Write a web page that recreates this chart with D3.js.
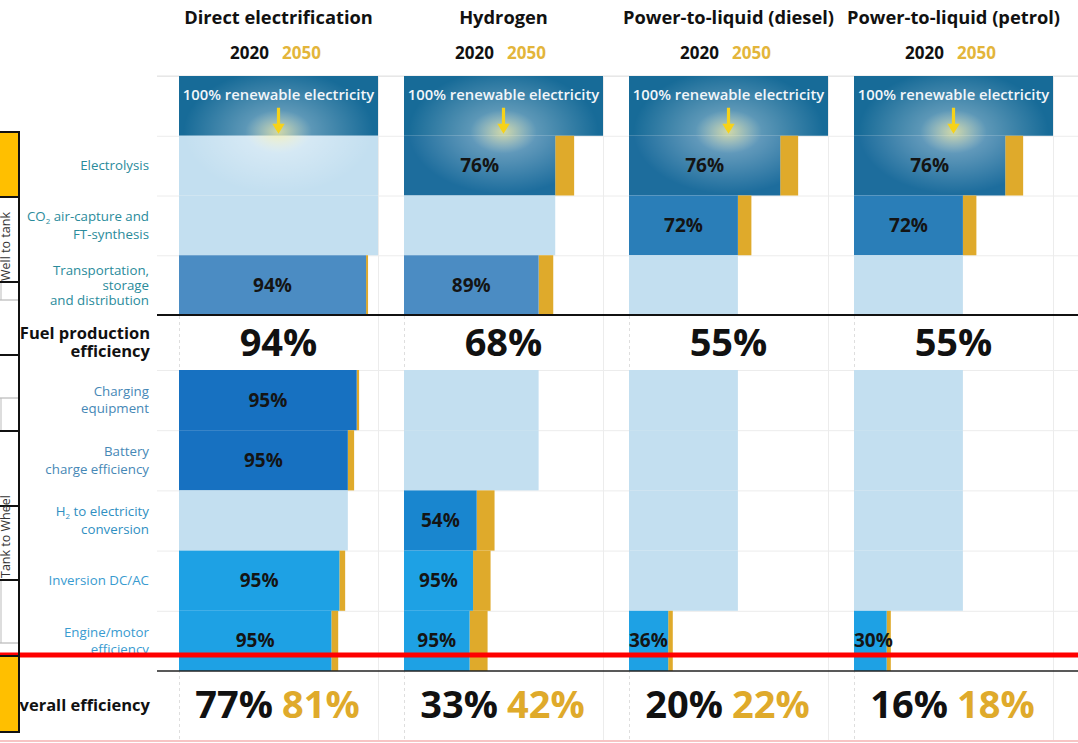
<!DOCTYPE html>
<html>
<head>
<meta charset="utf-8">
<script src="https://cdn.jsdelivr.net/npm/d3@7.9.0/dist/d3.min.js"></script>
<style>
  body { margin: 0; background: #fff; }
  svg { display: block; font-family: 'Open Sans', sans-serif; }
</style>
</head>
<body>
<script>
const pathways = ['Direct electrification', 'Hydrogen', 'Power-to-liquid (diesel)', 'Power-to-liquid (petrol)'];
const steps = ['Electrolysis', 'CO2 capture', 'Transport', 'Charging', 'Battery', 'H2 to electricity', 'Inversion', 'Engine'];
const stepLabels = [
    ['Electrolysis'],
    ['CO_2 air-capture and', 'FT-synthesis'],
    ['Transportation,', 'storage', 'and distribution'],
    ['Charging', 'equipment'],
    ['Battery', 'charge efficiency'],
    ['H_2 to electricity', 'conversion'],
    ['Inversion DC/AC'],
    ['Engine/motor', 'efficiency'],
];

// efficiency of each step in 2020, null where the step is not part of the pathway
const directSteps = [null, null, 94, 95, 95, null, 95, 95];
const hydrogenSteps = [76, null, 89, null, null, 54, 95, 95];
const dieselSteps = [76, 72, null, null, null, null, null, 36];
const petrolSteps = [76, 72, null, null, null, null, null, 30];

// share of the electricity left after each step in 2050 (end of the yellow part)
const direct2050 = [null, null, 95, 90.5, 88, null, 83.5, 80];
const hydrogen2050 = [85.5, null, 75, null, null, 45.5, 43.5, 42];
const diesel2050 = [85, 61.5, null, null, null, null, null, 22];
const petrol2050 = [85, 61.5, null, null, null, null, null, 18.5];

const fuelEfficiency = [94, 68, 55, 55];
const overall2020 = [77, 33, 20, 16];
const overall2050 = [81, 42, 22, 18];
const years = ['2020', '2050'];

const stepsBy = [directSteps, hydrogenSteps, dieselSteps, petrolSteps];
const laterBy = [direct2050, hydrogen2050, diesel2050, petrol2050];

const stepColors = ['#1d6d9d', '#2a7eb8', '#4b8cc3', '#1771c1', '#1771c1', '#1986cf', '#1ea1e4', '#1ea1e4'];
const labelColors = ['#2a8b9b', '#2a8b9b', '#2a8b9b', '#4688b6', '#4688b6', '#2f8fc2', '#399bd0', '#399bd0'];
const headerColor = '#176b98';
const passColor = '#c3dff0';
const yellow = '#dfaa2b';
const yearYellow = '#e3b53a';

const width = 1078, height = 743;
const svg = d3.select('body').append('svg').attr('width', width).attr('height', height);

const panelX = d3.scaleBand().domain(pathways).range([179, 1079]);
const x = d3.scaleLinear().domain([0, 100]).range([0, 199]);
const yTop = d3.scaleBand().domain(['renewable', ...steps.slice(0, 3)]).range([76, 315]);
const yBot = d3.scaleBand().domain(steps.slice(3)).range([370, 671]);
const rowY = (s) => yTop.domain().includes(s) ? yTop(s) : yBot(s);
const rowH = (s) => yTop.domain().includes(s) ? yTop.bandwidth() : yBot.bandwidth();

const defs = svg.append('defs');
const glow = defs.append('radialGradient').attr('id', 'glow');
glow.append('stop').attr('offset', '0%').attr('stop-color', '#fff3a8').attr('stop-opacity', 0.8);
glow.append('stop').attr('offset', '35%').attr('stop-color', '#ffffff').attr('stop-opacity', 0.3);
glow.append('stop').attr('offset', '100%').attr('stop-color', '#ffffff').attr('stop-opacity', 0);

// faint grid
const grid = svg.append('g').attr('stroke', '#ececec').attr('stroke-width', 1);
[...yTop.domain().map(yTop), ...yBot.domain().map(yBot)].forEach((y) => {
    grid.append('line').attr('x1', 157).attr('x2', width).attr('y1', y + 0.5).attr('y2', y + 0.5);
});
pathways.forEach((p) => {
    grid.append('line').attr('x1', panelX(p) + 0.5).attr('x2', panelX(p) + 0.5)
        .attr('y1', 76).attr('y2', 740).attr('stroke', '#dedede').attr('stroke-dasharray', '3,3');
    grid.append('line').attr('x1', panelX(p) + x(100) + 0.5).attr('x2', panelX(p) + x(100) + 0.5)
        .attr('y1', 76).attr('y2', 740);
});
svg.append('line').attr('x1', 157).attr('x2', width).attr('y1', 76).attr('y2', 76).attr('stroke', '#e2e2e2');

function addLines(sel, lines, y0, lineH) {
    lines.forEach((line, i) => {
        const t = sel.append('text').attr('y', y0 + i * lineH);
        line.split('_2').forEach((part, j) => {
            if (j > 0) t.append('tspan').attr('font-size', '0.6em').attr('dy', 3).text('2');
            t.append('tspan').attr('dy', j > 0 ? -3 : null).text(part);
        });
    });
}

pathways.forEach((p, pi) => {
    const x0 = panelX(p);
    const cx = x(100) / 2;
    const g = svg.append('g').attr('transform', `translate(${x0},0)`);
    const bars = g.append('g');
    const glowLayer = g.append('g');
    const texts = g.append('g');

    texts.append('text').attr('x', cx).attr('y', 24).attr('text-anchor', 'middle')
        .attr('font-size', 18.3).attr('font-weight', 700).attr('fill', '#111').text(p);
    const yt = texts.append('text').attr('x', cx - 3).attr('y', 58.5).attr('text-anchor', 'middle')
        .attr('font-size', 17).attr('font-weight', 700);
    yt.append('tspan').attr('fill', '#111').text(years[0]);
    yt.append('tspan').attr('fill', yearYellow).attr('dx', 13).text(years[1]);

    bars.append('rect').attr('x', 0).attr('y', yTop('renewable')).attr('width', x(100))
        .attr('height', yTop.bandwidth()).attr('fill', headerColor);

    let share = 100;
    let firstWidth = x(100);
    stepsBy[pi].forEach((eff, si) => {
        const s = steps[si];
        const y = rowY(s), h = rowH(s);
        if (eff === null) {
            bars.append('rect').attr('x', 0).attr('y', y).attr('width', x(share)).attr('height', h).attr('fill', passColor);
            if (si === 0) firstWidth = x(share);
            return;
        }
        const next = share * eff / 100;
        const later = laterBy[pi][si];
        if (later > next) {
            bars.append('rect').attr('x', x(next)).attr('y', y).attr('width', x(later) - x(next))
                .attr('height', h).attr('fill', yellow);
        }
        bars.append('rect').attr('x', 0).attr('y', y).attr('width', x(next)).attr('height', h).attr('fill', stepColors[si]);
        if (si === 0) firstWidth = x(next);
        const narrow = x(next) < 50;
        texts.append('text')
            .attr('x', narrow ? 0 : x(next) / 2)
            .attr('y', y + h / 2 + 6.5)
            .attr('text-anchor', narrow ? 'start' : 'middle')
            .attr('font-size', 19).attr('font-weight', 700).attr('fill', '#141414')
            .text(`${eff}%`);
        share = next;
    });

    // glow around the arrow
    const clip = defs.append('clipPath').attr('id', `clip-${pi}`);
    clip.append('rect').attr('x', 0).attr('y', yTop('renewable')).attr('width', x(100)).attr('height', yTop.bandwidth());
    clip.append('rect').attr('x', 0).attr('y', yTop(steps[0])).attr('width', firstWidth).attr('height', yTop.bandwidth());
    glowLayer.append('ellipse').attr('cx', cx).attr('cy', yTop(steps[0]) - 4).attr('rx', 95).attr('ry', 62)
        .attr('fill', 'url(#glow)').attr('clip-path', `url(#clip-${pi})`);

    texts.append('text').attr('x', cx).attr('y', 100).attr('text-anchor', 'middle')
        .attr('font-size', 14.8).attr('font-weight', 600).attr('fill', '#f2f6fa')
        .text('100% renewable electricity');

    const ay = yTop(steps[0]);
    texts.append('path')
        .attr('d', `M${cx - 1.6},${ay - 28} h3.2 v16 h4.6 l-6.2,10 l-6.2,-10 h4.6 z`)
        .attr('fill', '#f6d21a');

    texts.append('text').attr('x', cx).attr('y', 356).attr('text-anchor', 'middle')
        .attr('font-size', 38).attr('font-weight', 700).attr('fill', '#111').text(`${fuelEfficiency[pi]}%`);

    const ot = texts.append('text').attr('x', cx - 1).attr('y', 718).attr('text-anchor', 'middle')
        .attr('font-size', 38).attr('font-weight', 700);
    ot.append('tspan').attr('fill', '#111').text(`${overall2020[pi]}%`);
    ot.append('tspan').attr('fill', yellow).attr('dx', 9).text(`${overall2050[pi]}%`);
});

// step labels on the left
const labels = svg.append('g').attr('text-anchor', 'end').attr('font-size', 13.3).attr('font-weight', 500);
steps.forEach((s, si) => {
    const lines = stepLabels[si];
    const lineH = lines.length > 2 ? 15 : 17.5;
    const mid = rowY(s) + rowH(s) / 2;
    const gl = labels.append('g').attr('fill', labelColors[si]).attr('transform', 'translate(149,0)');
    addLines(gl, lines, mid - (lines.length - 1) * lineH / 2 + 4.5, lineH);
});

const bold = svg.append('g').attr('text-anchor', 'end').attr('font-size', 16.5).attr('font-weight', 700).attr('fill', '#111');
bold.append('text').attr('x', 150).attr('y', 339).text('Fuel production');
bold.append('text').attr('x', 150).attr('y', 357).text('efficiency');
bold.append('text').attr('x', 150).attr('y', 711).text('Overall efficiency');

svg.append('line').attr('x1', 157).attr('x2', width).attr('y1', 315).attr('y2', 315).attr('stroke', '#111').attr('stroke-width', 2);
svg.append('line').attr('x1', 157).attr('x2', width).attr('y1', 671).attr('y2', 671).attr('stroke', '#222').attr('stroke-width', 1.5);

// annotations over the screenshot
svg.append('rect').attr('x', 0).attr('y', 652.5).attr('width', width).attr('height', 5).attr('fill', '#ff0000');
svg.append('rect').attr('x', 0).attr('y', 740).attr('width', width).attr('height', 2).attr('fill', '#f7c4c4');

const side = svg.append('g');
side.append('rect').attr('x', 0).attr('y', 132).attr('width', 19).attr('height', 65).attr('fill', '#ffbf00');
side.append('rect').attr('x', 0).attr('y', 656).attr('width', 19).attr('height', 76).attr('fill', '#ffbf00');
[300, 398, 643].forEach((y) => {
    side.append('line').attr('x1', 0).attr('x2', 19).attr('y1', y).attr('y2', y).attr('stroke', '#aaa');
});
[[282, 300], [398, 431], [580, 643]].forEach(([a, b]) => {
    side.append('line').attr('x1', 1).attr('x2', 1).attr('y1', a).attr('y2', b).attr('stroke', '#bbb');
});
[132, 197, 282, 355, 431, 506, 580, 656, 732].forEach((y) => {
    side.append('line').attr('x1', 0).attr('x2', 19).attr('y1', y).attr('y2', y).attr('stroke', '#111').attr('stroke-width', 2);
});
side.append('line').attr('x1', 19).attr('x2', 19).attr('y1', 131).attr('y2', 733).attr('stroke', '#111').attr('stroke-width', 2);

const sideClip = defs.append('clipPath').attr('id', 'side-clip');
sideClip.append('rect').attr('x', 0).attr('y', 198).attr('width', 18).attr('height', 83);
side.append('g').attr('clip-path', 'url(#side-clip)')
    .append('text').attr('transform', 'translate(10,281) rotate(-90)').attr('font-size', 12.5)
    .attr('fill', '#333').text('Well to tank');
side.append('text').attr('transform', 'translate(10,578) rotate(-90)').attr('font-size', 12.5)
    .attr('fill', '#333').text('Tank to Wheel');
</script>
</body>
</html>
